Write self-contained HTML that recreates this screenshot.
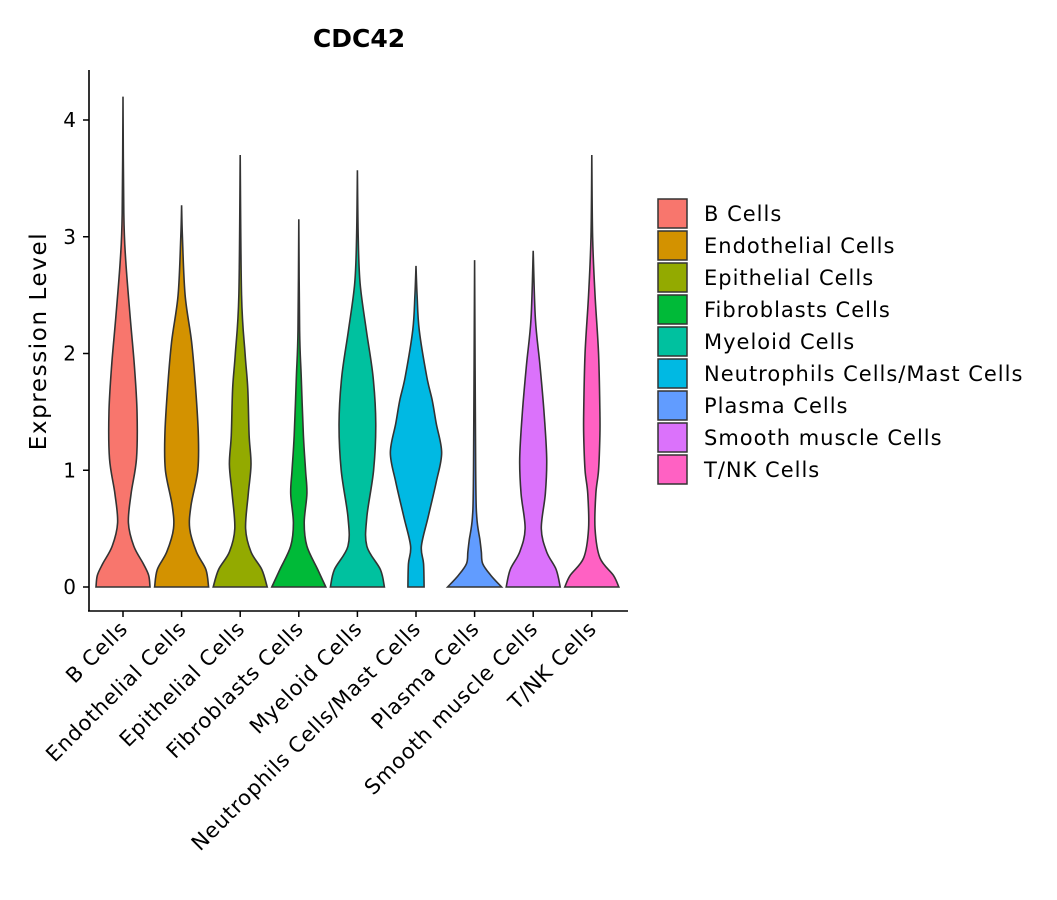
<!DOCTYPE html>
<html><head><meta charset="utf-8"><style>
body{margin:0;background:#fff;}
svg{display:block;font-family:"DejaVu Sans","Liberation Sans",sans-serif;}
</style></head><body>
<svg id="chart" width="1057" height="900">
<text x="359" y="47" text-anchor="middle" font-size="25" font-weight="bold">CDC42</text>
<text transform="translate(46,341) rotate(-90)" text-anchor="middle" font-size="23" letter-spacing="1.6">Expression Level</text>
<g id="plot"></g>
<g id="legend"></g>
</svg>
<script>
const categories=["B Cells","Endothelial Cells","Epithelial Cells","Fibroblasts Cells","Myeloid Cells","Neutrophils Cells/Mast Cells","Plasma Cells","Smooth muscle Cells","T/NK Cells"];
const colors=["#F8766D","#D39200","#93AA00","#00BA38","#00C19F","#00B9E3","#619CFF","#DB72FB","#FF61C3"];
const yTicks=[0,1,2,3,4];
const levels=[
[0,0.1,0.2,0.35,0.55,0.8,1.1,1.5,1.9,2.3,2.8,3.2,4.2],
[0,0.15,0.3,0.5,0.7,1.0,1.3,1.7,2.1,2.5,3.0,3.27],
[0,0.15,0.3,0.5,0.8,1.05,1.3,1.7,2.0,2.5,3.7],
[0,0.15,0.35,0.55,0.8,1.0,1.3,1.8,2.2,3.15],
[0,0.15,0.35,0.6,1.0,1.4,1.8,2.2,2.6,3.0,3.57],
[0,0.2,0.35,0.6,0.9,1.15,1.4,1.6,1.8,2.2,2.5,2.75],
[0,0.1,0.2,0.3,0.4,0.6,1.0,2.8],
[0,0.15,0.3,0.5,0.8,1.1,1.5,1.9,2.3,2.88],
[0,0.1,0.25,0.5,0.8,1.0,1.3,1.5,2.0,2.5,3.0,3.7]];
const densities=[
[1,0.95,0.75,0.4,0.2,0.3,0.5,0.52,0.42,0.27,0.1,0.03,0],
[1,0.9,0.55,0.3,0.35,0.6,0.62,0.52,0.37,0.13,0.03,0],
[1,0.8,0.4,0.2,0.3,0.4,0.33,0.28,0.18,0.05,0],
[1,0.7,0.3,0.2,0.3,0.25,0.17,0.09,0.03,0],
[1,0.85,0.35,0.35,0.6,0.68,0.58,0.33,0.1,0.03,0],
[0.3,0.28,0.2,0.45,0.75,0.95,0.75,0.6,0.4,0.12,0.04,0],
[1,0.6,0.3,0.25,0.2,0.08,0.04,0],
[1,0.85,0.5,0.3,0.45,0.5,0.4,0.25,0.08,0],
[1,0.8,0.3,0.12,0.15,0.25,0.3,0.3,0.25,0.12,0.03,0]];
const NS="http://www.w3.org/2000/svg";
const X0=123,DX=58.6,Y0=587,DY=116.75,HW=27;
const xs=i=>X0+i*DX, ys=v=>Y0-v*DY;
const plot=document.getElementById('plot');
function mk(t,a,p){const e=document.createElementNS(NS,t);for(const k in a)e.setAttribute(k,a[k]);(p||plot).appendChild(e);return e;}
function curve(pts){let d="M"+pts[0][0]+","+pts[0][1];
 for(let i=0;i<pts.length-1;i++){const p0=pts[i-1]||pts[i],p1=pts[i],p2=pts[i+1],p3=pts[i+2]||p2;
 const c1=[p1[0]+(p2[0]-p0[0])/6,p1[1]+(p2[1]-p0[1])/6],c2=[p2[0]-(p3[0]-p1[0])/6,p2[1]-(p3[1]-p1[1])/6];
 d+=`C${c1[0]},${c1[1]} ${c2[0]},${c2[1]} ${p2[0]},${p2[1]}`;}return d;}
categories.forEach((c,i)=>{
 const cx=xs(i);const L=levels[i],D=densities[i];
 const right=L.map((v,j)=>[cx+D[j]*HW,ys(v)]);
 const left=L.map((v,j)=>[cx-D[j]*HW,ys(v)]).reverse();
 let d=curve(right)+" L"+left[0][0]+","+left[0][1]+curve(left).replace(/^M[^C]*/,"")+"Z";
 const p=mk('path',{d:d,fill:colors[i],stroke:"#333",'stroke-width':1.6});
 
 
 mk('line',{x1:cx,x2:cx,y1:611,y2:617,stroke:"#000",'stroke-width':1.5});
 const t=mk('text',{transform:`translate(${cx+6},${630}) rotate(-45)`,'text-anchor':'end','font-size':21,'letter-spacing':0.8});
 t.textContent=c;
 
 
});
yTicks.forEach(v=>{
 mk('line',{x1:83,x2:89,y1:ys(v),y2:ys(v),stroke:"#000",'stroke-width':1.5});
 const t=mk('text',{x:76,y:ys(v)+7,'text-anchor':'end','font-size':20});
 t.textContent=v;
 
 
});
const ya=mk('line',{x1:89,x2:89,y1:70,y2:611,stroke:"#000",'stroke-width':1.6});

const xa=mk('line',{x1:88,x2:628,y1:611,y2:611,stroke:"#000",'stroke-width':1.6});

const lg=document.getElementById('legend');

categories.forEach((c,i)=>{
 const y=199+i*32;
 const g=mk('g',{},lg);
 
 
 mk('rect',{x:658,y:y,width:29,height:29,fill:colors[i],stroke:"#333",'stroke-width':1.5},g);
 const t=mk('text',{x:704,y:y+22,'font-size':21,'letter-spacing':1},g);t.textContent=c;
});
</script>
</body></html>
